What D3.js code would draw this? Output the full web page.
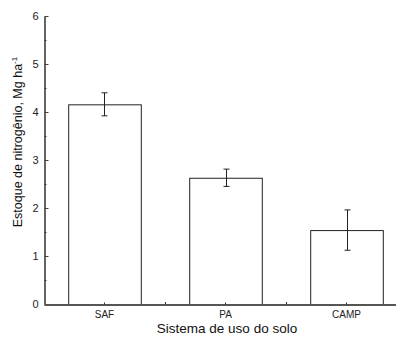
<!DOCTYPE html>
<html>
<head>
<meta charset="utf-8">
<script src="https://cdn.jsdelivr.net/npm/d3@7"></script>
<style>
  body { margin: 0; background: #fff; }
  svg { display: block; font-family: "Liberation Sans", Arial, sans-serif; }
</style>
</head>
<body>
<svg id="chart" width="396" height="337"></svg>
<script>
// data
const categories = ['SAF', 'PA', 'CAMP'];
const values = [4.16, 2.63, 1.54];
const errors = [0.24, 0.18, 0.42];
const yTicks = [0, 1, 2, 3, 4, 5, 6];

const dims = {
  left: 44,
  right: 407,   // axis runs past the picture edge
  top: 16,
  bottom: 304
};

const svg = d3.select('#chart');

const xScale = d3.scaleBand()
  .domain(categories)
  .range([dims.left, dims.right])
  .paddingInner(0.4)
  .paddingOuter(0.2);

const yScale = d3.scaleLinear()
  .domain([0, 6])
  .range([dims.bottom, dims.top]);

// bars
svg.append('g')
  .selectAll('rect')
  .data(values)
  .enter()
  .append('rect')
  .attr('x', (d, i) => xScale(categories[i]) + 0.5)
  .attr('y', d => yScale(d) + 0.5)
  .attr('width', xScale.bandwidth())
  .attr('height', d => yScale(0) - yScale(d))
  .attr('fill', '#fff')
  .attr('stroke', '#222')
  .attr('stroke-width', 1);

// error bars
const err = svg.append('g').attr('stroke', '#222').attr('stroke-width', 1);
values.forEach((v, i) => {
  const cx = Math.round(xScale(categories[i]) + xScale.bandwidth() / 2) + 0.5;
  const y1 = yScale(v + errors[i]);
  const y2 = yScale(v - errors[i]);
  err.append('line').attr('x1', cx).attr('x2', cx).attr('y1', y1).attr('y2', y2);
  err.append('line').attr('x1', cx - 3).attr('x2', cx + 3).attr('y1', y1).attr('y2', y1);
  err.append('line').attr('x1', cx - 3).attr('x2', cx + 3).attr('y1', y2).attr('y2', y2);
});

// y axis, ticks inward
const yAxis = d3.axisLeft(yScale)
  .tickValues(yTicks)
  .tickFormat(d3.format('d'))
  .tickSizeInner(-4)
  .tickSizeOuter(0)
  .tickPadding(6);

const gy = svg.append('g')
  .attr('transform', 'translate(' + (dims.left + 0.5) + ',0)')
  .call(yAxis);
gy.select('.domain').attr('stroke', '#111').attr('stroke-width', 1.3);
gy.selectAll('.tick line').attr('stroke', '#444');
gy.selectAll('.tick text').attr('font-size', 11).attr('fill', '#222').attr('font-family', '"Liberation Sans", Arial, sans-serif');

// y minor ticks
const yMinor = d3.range(0.5, 6, 1);
svg.append('g')
  .selectAll('line')
  .data(yMinor)
  .enter()
  .append('line')
  .attr('x1', dims.left)
  .attr('x2', dims.left + 2.5)
  .attr('y1', d => Math.round(yScale(d)) + 0.5)
  .attr('y2', d => Math.round(yScale(d)) + 0.5)
  .attr('stroke', '#444');

// x axis, ticks inward
const xAxis = d3.axisBottom(xScale)
  .tickSizeInner(-2)
  .tickSizeOuter(0)
  .tickPadding(6);

const gx = svg.append('g')
  .attr('transform', 'translate(0,' + (dims.bottom + 0.5) + ')')
  .call(xAxis);
gx.select('.domain').attr('stroke', '#555').attr('stroke-width', 2);
gx.selectAll('.tick line').attr('stroke', '#333');
gx.selectAll('.tick text').attr('font-size', 10).attr('fill', '#222').attr('font-family', '"Liberation Sans", Arial, sans-serif');

// x minor ticks between categories
const xMinor = [0, 1].map(i => xScale(categories[i]) + xScale.bandwidth() + xScale.step() * xScale.paddingInner() / 2);
svg.append('g')
  .selectAll('line')
  .data(xMinor)
  .enter()
  .append('line')
  .attr('x1', d => Math.round(d) + 0.5)
  .attr('x2', d => Math.round(d) + 0.5)
  .attr('y1', dims.bottom)
  .attr('y2', dims.bottom - 2)
  .attr('stroke', '#333');

// axis titles
svg.append('text')
  .attr('x', 227)
  .attr('y', 333)
  .attr('text-anchor', 'middle')
  .attr('font-size', 13.5)
  .attr('fill', '#111')
  .text('Sistema de uso do solo');

const yTitle = svg.append('text')
  .attr('transform', 'translate(22,142) rotate(-90)')
  .attr('text-anchor', 'middle')
  .attr('font-size', 12.5)
  .attr('fill', '#111');
yTitle.append('tspan').text('Estoque de nitrogênio, Mg ha');
yTitle.append('tspan').attr('font-size', 8).attr('dy', -5).text('-1');
</script>
</body>
</html>
